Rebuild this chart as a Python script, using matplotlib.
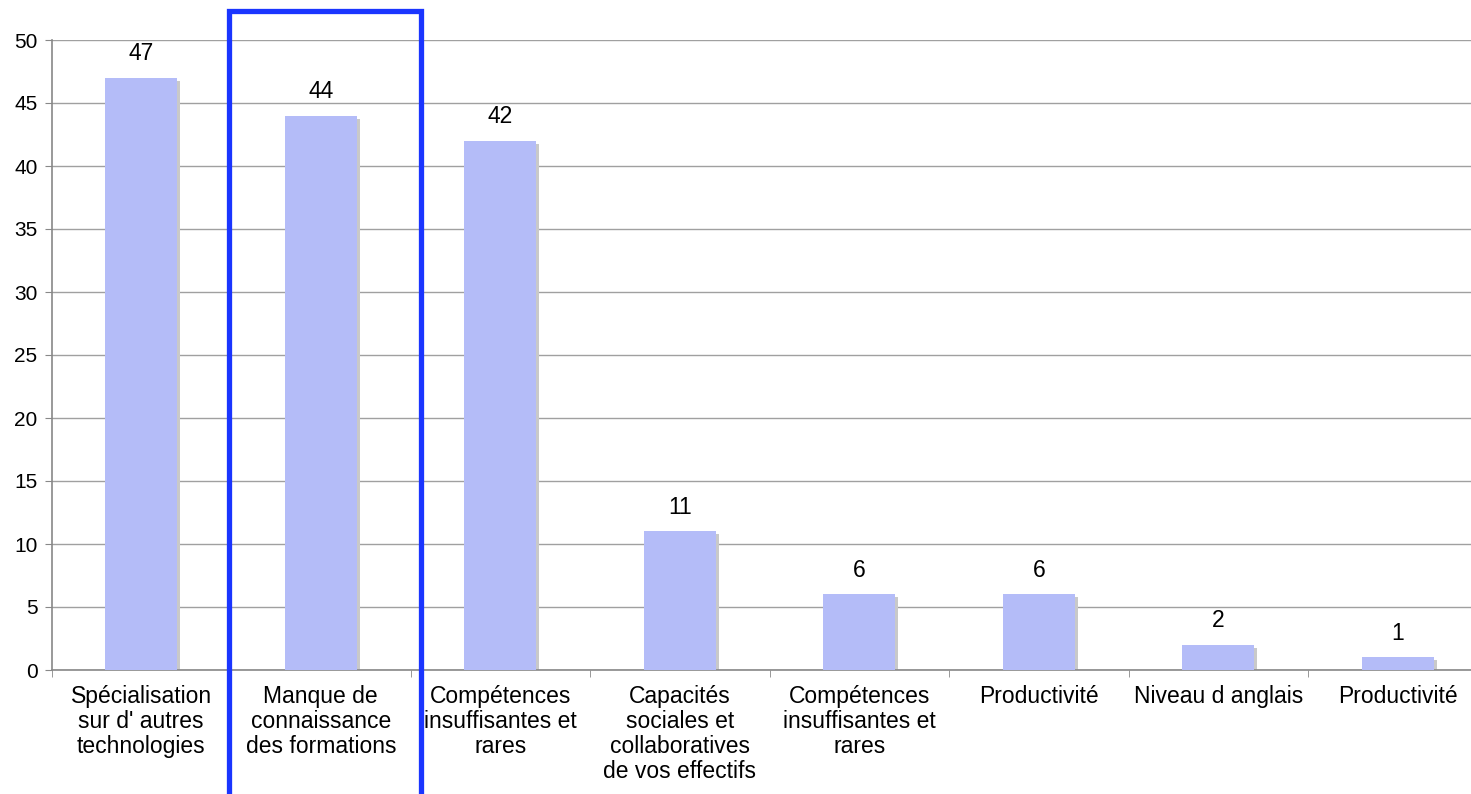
import matplotlib
matplotlib.use("Agg")
import matplotlib.pyplot as plt
from matplotlib.patches import Rectangle
import matplotlib.transforms as mtransforms
import numpy as np

categories = [
    "Spécialisation\nsur d' autres\ntechnologies",
    "Manque de\nconnaissance\ndes formations",
    "Compétences\ninsuffisantes et\nrares",
    "Capacités\nsociales et\ncollaboratives\nde vos effectifs",
    "Compétences\ninsuffisantes et\nrares",
    "Productivité",
    "Niveau d anglais",
    "Productivité",
]
values = [47, 44, 42, 11, 6, 6, 2, 1]
yticks = [0, 5, 10, 15, 20, 25, 30, 35, 40, 45, 50]

plt.rcParams['font.family'] = ['Liberation Sans', 'DejaVu Sans']

fig = plt.figure(figsize=(14.71, 7.94), dpi=100)
ax = fig.add_axes([51.5/1471, (794-670)/794, 1436/1471, 630/794])

x = np.arange(len(values))
bw = 0.40
# shadow
shadow = mtransforms.offset_copy(ax.transData, fig=fig, x=3, y=-3, units='dots')
ax.bar(x, values, width=bw, color='#c9c9c9', transform=shadow, zorder=2)
ax.bar(x, values, width=bw, color='#b4bcf8', zorder=3)

for xi, v in zip(x, values):
    ax.annotate(str(v), (xi, v), xytext=(0, 9), textcoords='offset points',
                ha='center', va='bottom', fontsize=16.5, zorder=4)

ax.set_xlim(-0.5, len(values) - 0.5)
ax.set_ylim(0, 50)
ax.set_yticks(yticks)
ax.set_yticklabels([str(t) for t in yticks], fontsize=15)
ax.yaxis.grid(True, color='#a0a0a0', linewidth=1)
ax.set_axisbelow(True)

ax.set_xticks(x)
ax.set_xticklabels(categories, fontsize=16.5, linespacing=1.1)
ax.tick_params(axis='x', which='major', length=0, pad=11)
ax.set_xticks(np.arange(len(values) + 1) - 0.5, minor=True)
ax.tick_params(axis='x', which='minor', length=5, color='#888888', direction='out')
ax.tick_params(axis='y', length=5, color='#888888', pad=5)

for s in ['top', 'right']:
    ax.spines[s].set_visible(False)
for s in ['left', 'bottom']:
    ax.spines[s].set_color('#888888')
    ax.spines[s].set_linewidth(1.2)

# highlight box around second category
trans = mtransforms.blended_transform_factory(ax.transData, ax.transAxes)
rect = Rectangle((0.49, -0.215), 1.067, 1.261, transform=trans, fill=False,
                 edgecolor='#1a35ff', linewidth=3.8, clip_on=False, zorder=5)
ax.add_patch(rect)

fig.savefig("out.png", dpi=100)
